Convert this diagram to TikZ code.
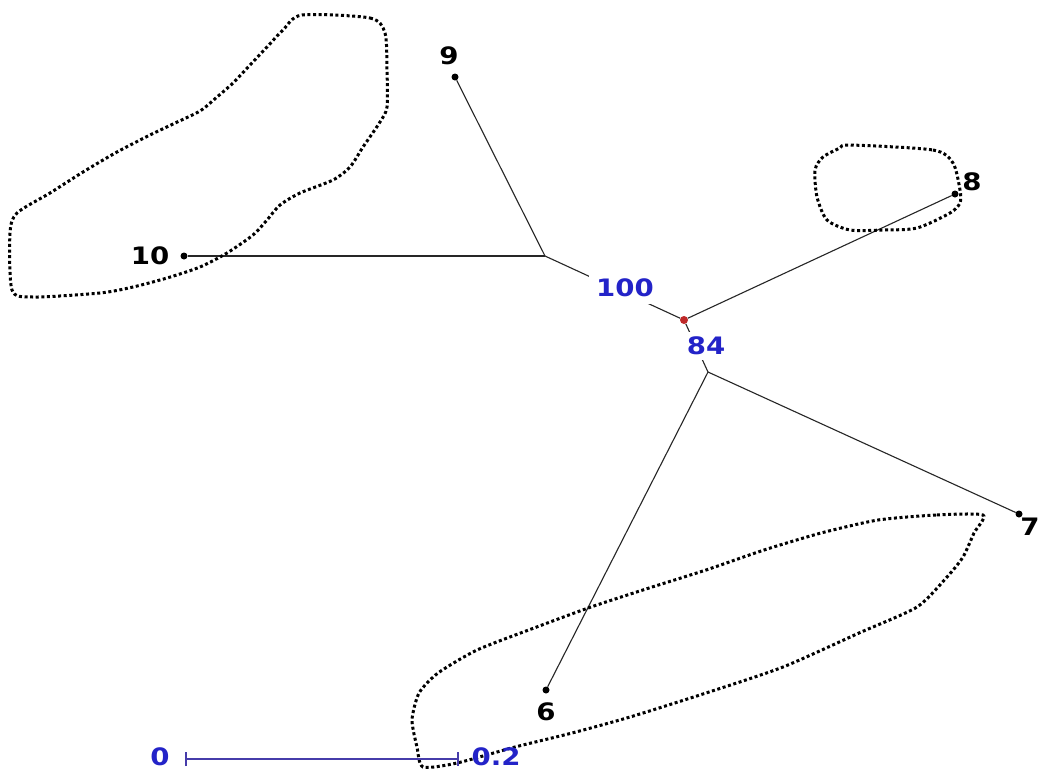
\documentclass[tikz,border=0pt]{standalone}
\usepackage{graphicx}
\usepackage{fontspec}
\setmainfont{DejaVu Sans}
\definecolor{labblue}{RGB}{35,35,200}
\definecolor{barblue}{RGB}{70,60,170}
\definecolor{reddot}{RGB}{190,40,40}
\newcommand{\wlab}[1]{\scalebox{1.15}[1]{#1}}
\begin{document}
\begin{tikzpicture}[x=1pt,y=-1pt,
  lab/.style={font=\fontsize{24}{25}\selectfont\bfseries, inner sep=0pt, text=black},
  support/.style={font=\fontsize{24}{25}\selectfont\bfseries, text=labblue, fill=white},
  leaf/.style={circle, fill=black, inner sep=0pt, minimum size=7pt},
  edge/.style={draw=black!85, line width=1.1pt},
  blob/.style={draw=black, line width=3pt, dash pattern=on 3pt off 2.6pt},
  scalebar/.style={draw=barblue, line width=1.3pt}]
\useasboundingbox[fill=white] (0,0) rectangle (1040,772);

% junctions
\coordinate (A) at (545,256);
\coordinate (B) at (708,372);
\node[circle, fill=reddot, inner sep=0pt, minimum size=8pt] (R) at (684,320) {};

% leaves
\node[leaf] (n10) at (184,256) {};
\node[leaf] (n9) at (455,77) {};
\node[leaf] (n8) at (955,194) {};
\node[leaf] (n7) at (1019,514) {};
\node[leaf] (n6) at (546,690) {};

% edges
\draw[edge] (n10) -- (A);
\draw[edge] (n9) -- (A);
\draw[edge] (A) -- (R);
\draw[edge] (R) -- (n8);
\draw[edge] (R) -- (B);
\draw[edge] (B) -- (n7);
\draw[edge] (B) -- (n6);

% support values
\node[support, inner sep=7pt] (s100) at (625,288) {\wlab{100}};
\node[support, inner sep=5pt] (s84) at (706,346) {\wlab{84}};

% leaf labels
\node[lab] (l10) at (150,256) {\wlab{10}};
\node[lab] (l9) at (449,56) {\wlab{9}};
\node[lab] (l8) at (972,182) {\wlab{8}};
\node[lab] (l7) at (1030,527) {\wlab{7}};
\node[lab] (l6) at (546,712) {\wlab{6}};

% dotted outlines
\draw[blob] plot[smooth cycle, tension=0.45] coordinates {
 (302,15) (370,18) (385,33) (387,70) (387,107) (380,122) (363,147) (350,167)
 (333,180) (300,193) (280,205) (267,220) (253,235) (227,253) (200,267) (167,278)
 (133,287) (100,293) (33,297) (12,290) (10,233) (17,213) (50,193) (83,172)
 (117,152) (150,135) (173,124) (200,111) (217,97) (233,83) (250,65) (267,47) (283,30)};
\draw[blob] plot[smooth cycle, tension=0.45] coordinates {
 (850,145) (933,150) (953,163) (960,190) (960,203) (950,213) (917,228) (883,230)
 (850,230) (827,220) (817,197) (815,170) (823,157) (840,148)};
\draw[blob] plot[smooth cycle, tension=0.4] coordinates {
 (983,515) (936,515) (878,520) (821,533) (764,550) (706,570) (649,588) (591,607)
 (534,628) (477,650) (438,673) (419,693) (412,720) (417,747) (423,767) (457,763)
 (515,747) (572,733) (630,717) (706,693) (783,667) (859,633) (917,607) (947,577)
 (963,557) (974,533)};

% scale bar
\coordinate (b0) at (186,759);
\coordinate (b1) at (458,759);
\draw[scalebar] (b0) -- (b1);
\draw[scalebar] ([yshift=-7pt]b0) -- ([yshift=7pt]b0);
\draw[scalebar] ([yshift=-7pt]b1) -- ([yshift=7pt]b1);
\node[lab, text=labblue] (z0) at (160,757) {\wlab{0}};
\node[lab, text=labblue] (z2) at (496,757) {\wlab{0.2}};
\end{tikzpicture}
\end{document}
